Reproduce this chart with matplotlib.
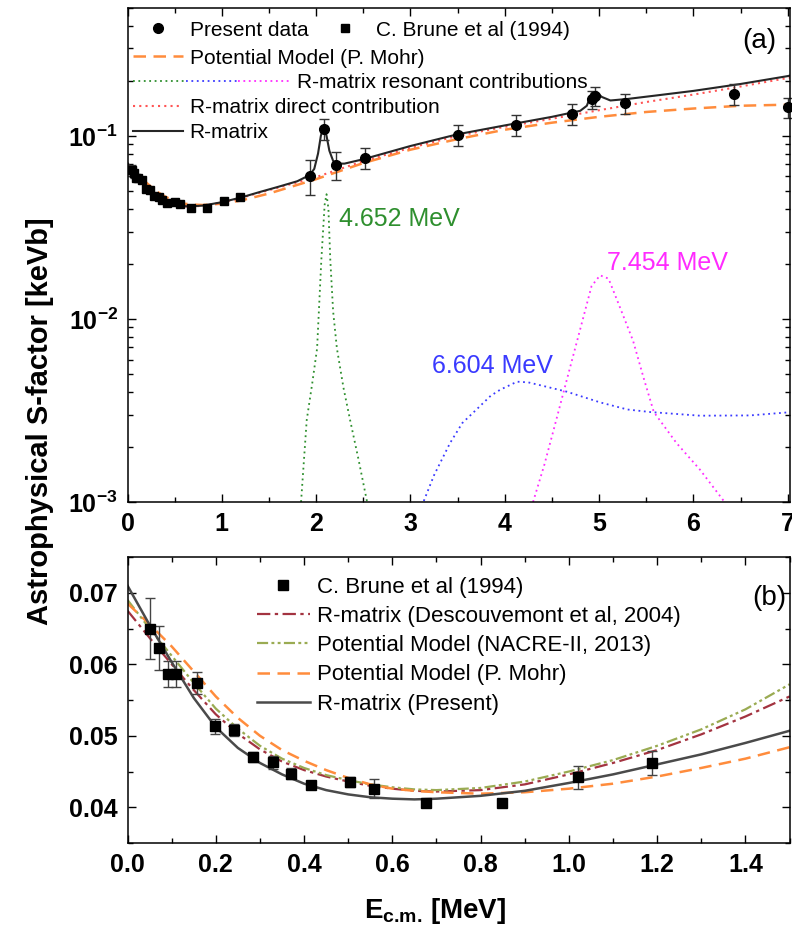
import numpy as np
import matplotlib as mpl
mpl.use('Agg')
import matplotlib.pyplot as plt
from matplotlib.lines import Line2D
from matplotlib.legend_handler import HandlerTuple
from matplotlib.ticker import MultipleLocator, FuncFormatter, LogLocator, NullFormatter

###########################################################################
# DATA

# C. Brune et al (1994)
brune_x = [0.051, 0.072, 0.091, 0.109, 0.157, 0.198, 0.242, 0.284, 0.329,
           0.370, 0.415, 0.505, 0.558, 0.677, 0.848, 1.020, 1.188]
brune_y = [0.0650, 0.0623, 0.0586, 0.0586, 0.0574, 0.0513, 0.0508, 0.0470,
           0.0463, 0.0447, 0.0431, 0.0436, 0.0426, 0.0406, 0.0406, 0.0442,
           0.0462]
brune_err = [0.0043, 0.0031, 0.0018, 0.0018, 0.0015, 0.0011, 0.0009, 0.0007,
             0.0009, 0.0008, 0.0004, 0.0007, 0.0013, 0.0004, 0.0003, 0.0016,
             0.0017]

# present data
pres_x = [1.93, 2.08, 2.21, 2.52, 3.50, 4.12, 4.71, 4.92, 4.96, 5.27, 6.43,
          7.00]
pres_y = [0.0607, 0.109, 0.0697, 0.0761, 0.101, 0.115, 0.132, 0.158, 0.165,
          0.151, 0.170, 0.1435]
pres_err = [0.013, 0.014, 0.012, 0.010, 0.013, 0.015, 0.017, 0.018, 0.019,
            0.019, 0.022, 0.018]

# (a) R-matrix total
rm_x = [0, 0.05, 0.1, 0.15, 0.2, 0.25, 0.3, 0.4, 0.5, 0.65, 0.8, 1.0, 1.2,
        1.4, 1.6, 1.8, 1.93, 1.98, 2.02, 2.05, 2.08, 2.11, 2.14, 2.18, 2.22,
        2.3, 2.5, 3.0, 3.5, 4.0, 4.5, 4.8, 4.87, 4.92, 4.975, 5.03, 5.12,
        5.3, 5.6, 6.0, 6.5, 7.0, 7.05]
rm_y = [0.0710, 0.0655, 0.0603, 0.0553, 0.0512, 0.0483, 0.0462, 0.0433,
        0.0418, 0.0411, 0.0416, 0.0434, 0.0460, 0.0493, 0.0527, 0.0565,
        0.0610, 0.066, 0.080, 0.100, 0.113, 0.100, 0.083, 0.073, 0.0705,
        0.0705, 0.0745, 0.088, 0.102, 0.114, 0.127, 0.137, 0.146, 0.171,
        0.172, 0.163, 0.156, 0.159, 0.166, 0.176, 0.192, 0.212, 0.215]

# (a) R-matrix direct contribution
dc_x = [0, 0.1, 0.2, 0.3, 0.4, 0.5, 0.65, 0.8, 1.0, 1.2, 1.5, 2.0, 2.5, 3.0,
        3.5, 4.0, 4.5, 5.0, 5.5, 6.0, 6.5, 7.0, 7.05]
dc_y = [0.0705, 0.0600, 0.0510, 0.0460, 0.0432, 0.0417, 0.0410, 0.0415,
        0.0432, 0.0458, 0.0505, 0.0595, 0.0728, 0.086, 0.100, 0.112, 0.124,
        0.138, 0.153, 0.168, 0.186, 0.207, 0.209]

# (a) Potential model (P. Mohr)
pm_x = [0, 0.1, 0.2, 0.3, 0.4, 0.5, 0.6, 0.7, 0.8, 1.0, 1.2, 1.5, 2.0, 2.5,
        3.0, 3.5, 4.0, 4.5, 5.0, 5.5, 6.0, 6.5, 7.0, 7.05]
pm_y = [0.0685, 0.0625, 0.0555, 0.0500, 0.0465, 0.0441, 0.0426, 0.0421,
        0.0419, 0.0426, 0.0443, 0.0484, 0.058, 0.071, 0.084, 0.096, 0.108,
        0.118, 0.127, 0.135, 0.141, 0.146, 0.148, 0.148]

# (a) resonant contributions
res1_x = [1.84, 1.90, 1.96, 2.01, 2.055, 2.09, 2.11, 2.13, 2.15, 2.18, 2.22,
          2.29, 2.36, 2.45, 2.54, 2.60]
res1_y = [0.0010, 0.0028, 0.0045, 0.0069, 0.021, 0.042, 0.048, 0.040, 0.021,
          0.011, 0.0069, 0.0042, 0.0028, 0.0017, 0.0010, 0.0008]
res2_x = [3.12, 3.25, 3.42, 3.55, 3.70, 3.85, 3.95, 4.13, 4.25, 4.41, 4.66,
          5.01, 5.30, 5.54, 6.07, 6.60, 7.05]
res2_y = [0.00095, 0.0014, 0.0021, 0.0027, 0.0032, 0.0038, 0.0041, 0.00454,
          0.0045, 0.0043, 0.0040, 0.0035, 0.0032, 0.0031, 0.00296, 0.00297,
          0.0031]
res3_x = [4.30, 4.42, 4.52, 4.66, 4.80, 4.92, 5.01, 5.10, 5.22, 5.36, 5.47,
          5.58, 5.82, 6.07, 6.33]
res3_y = [0.0010, 0.0016, 0.0025, 0.0047, 0.0088, 0.0151, 0.0173, 0.0166,
          0.0116, 0.0076, 0.0048, 0.0031, 0.0021, 0.0015, 0.0010]
res_labels = ['4.652 MeV', '6.604 MeV', '7.454 MeV']
res_label_pos = [(2.24, 0.0351), (3.23, 0.00556), (5.08, 0.0203)]

# (b) low energy curves
low_x = [0.0, 0.05, 0.1, 0.15, 0.2, 0.25, 0.3, 0.35, 0.4, 0.45, 0.5, 0.55,
         0.6, 0.65, 0.7, 0.8, 0.9, 1.0, 1.1, 1.2, 1.3, 1.4, 1.5]
low_rm = [0.0710, 0.0655, 0.0603, 0.0553, 0.0512, 0.0483, 0.0462, 0.0446,
          0.0433, 0.0424, 0.0418, 0.0414, 0.0412, 0.0411, 0.0412, 0.0416,
          0.0423, 0.0434, 0.0446, 0.0460, 0.0474, 0.0490, 0.0507]
low_desc = [0.0675, 0.0637, 0.0600, 0.0564, 0.0530, 0.0503, 0.0481, 0.0464,
            0.0452, 0.0443, 0.0436, 0.0430, 0.0426, 0.0423, 0.0422, 0.0424,
            0.0432, 0.0446, 0.0462, 0.0480, 0.0502, 0.0527, 0.0555]
low_nacre = [0.0690, 0.0650, 0.0612, 0.0574, 0.0538, 0.0510, 0.0486,
             0.0468, 0.0455, 0.0445, 0.0438, 0.0432, 0.0428, 0.0425, 0.0424,
             0.0427, 0.0436, 0.0450, 0.0466, 0.0486, 0.0509, 0.0537, 0.0572]
low_mohr = [0.0685, 0.0656, 0.0625, 0.0590, 0.0555, 0.0525, 0.0500, 0.0480,
            0.0465, 0.0452, 0.0441, 0.0432, 0.0426, 0.0423, 0.0421, 0.0419,
            0.0421, 0.0426, 0.0433, 0.0443, 0.0455, 0.0468, 0.0484]

###########################################################################
# STYLE
mpl.rcParams['font.family'] = ['Liberation Sans', 'DejaVu Sans']
mpl.rcParams['mathtext.fontset'] = 'custom'
mpl.rcParams['mathtext.rm'] = 'Liberation Sans:bold'
mpl.rcParams['mathtext.bf'] = 'Liberation Sans:bold'
mpl.rcParams['mathtext.it'] = 'Liberation Sans:italic'
mpl.rcParams['axes.linewidth'] = 1.1

c_black = '#262626'
c_green = '#2e8f2e'
c_blue = '#3a3aff'
c_magenta = '#ff2bff'
c_red = '#ff5555'
c_orange = '#ff8c3c'
c_desc = '#a33340'
c_nacre = '#9aab52'
dot = (0, (1, 2))


def style_axis(ax):
    ax.tick_params(which='both', direction='in', top=True, right=True,
                   width=1.0, labelsize=18)
    ax.tick_params(which='major', length=6, pad=7)
    ax.tick_params(which='minor', length=3.5)
    for lab in ax.get_xticklabels() + ax.get_yticklabels():
        lab.set_fontweight('bold')


fig = plt.figure(figsize=(7.92, 9.27), dpi=100)
ax = fig.add_axes([0.161, 0.4585, 0.836, 0.533])
ax2 = fig.add_axes([0.161, 0.0906, 0.836, 0.3085])

###########################################################################
# (a)
ax.set_yscale('log')
res_colors = [c_green, c_blue, c_magenta]
for rx, ry, col in zip([res1_x, res2_x, res3_x], [res1_y, res2_y, res3_y],
                       res_colors):
    ax.plot(rx, ry, color=col, linestyle=dot, lw=1.3)
for (tx, ty), txt, col in zip(res_label_pos, res_labels, res_colors):
    ax.text(tx, ty, txt, color=col, fontsize=18, va='center', ha='left')

ax.plot(pm_x, pm_y, color=c_orange, linestyle=(0, (5, 3)), lw=1.8)
ax.plot(dc_x, dc_y, color=c_red, linestyle=dot, lw=1.5)
ax.plot(rm_x, rm_y, color=c_black, lw=1.5)
ax.errorbar(brune_x, brune_y, yerr=brune_err, fmt='s', ms=6, color='k',
            ecolor='#333333', elinewidth=1, capsize=3)
ax.errorbar(pres_x, pres_y, yerr=pres_err, fmt='o', ms=7, color='k',
            ecolor='#333333', elinewidth=1, capsize=3.5, clip_on=False)

ax.set_xlim(0, 7.02)
ax.set_ylim(1e-3, 0.5)
ax.xaxis.set_major_locator(MultipleLocator(1))
ax.xaxis.set_minor_locator(MultipleLocator(0.5))
ax.yaxis.set_major_locator(LogLocator(base=10, numticks=10))
ax.yaxis.set_minor_locator(LogLocator(base=10, subs=np.arange(2, 10),
                                      numticks=20))
ax.yaxis.set_minor_formatter(NullFormatter())
ax.yaxis.set_major_formatter(FuncFormatter(
    lambda v, p: r'$\mathbf{10^{%d}}$' % round(np.log10(v))))
style_axis(ax)
ax.text(0.954, 0.933, '(a)', transform=ax.transAxes, fontsize=20,
        ha='center', va='center')

# legend of (a), built as separate rows
leg_kw = dict(frameon=False, fontsize=15, loc='center left', borderpad=0,
              borderaxespad=0, handletextpad=0.3, handlelength=2.4)
h_pres = Line2D([], [], marker='o', ms=7, color='k', ls='none')
h_brune = Line2D([], [], marker='s', ms=6, color='k', ls='none')
leg1 = ax.legend([h_pres, h_brune], ['Present data', 'C. Brune et al (1994)'],
                 ncol=2, columnspacing=0.55, bbox_to_anchor=(0.009, 0.955),
                 **leg_kw)
ax.add_artist(leg1)
h_pm = Line2D([], [], color=c_orange, ls=(0, (5, 3)), lw=1.8)
leg2 = ax.legend([h_pm], ['Potential Model (P. Mohr)'],
                 bbox_to_anchor=(0.009, 0.898), **leg_kw)
ax.add_artist(leg2)
h_res = tuple(Line2D([], [], color=c, ls=dot, lw=1.3) for c in res_colors)
kw3 = dict(leg_kw)
kw3['handlelength'] = 7.55
leg3 = ax.legend([h_res], ['R-matrix resonant contributions'],
                 handler_map={tuple: HandlerTuple(ndivide=None, pad=0)},
                 bbox_to_anchor=(0.009, 0.848), **kw3)
ax.add_artist(leg3)
h_dc = Line2D([], [], color=c_red, ls=dot, lw=1.5)
h_rm = Line2D([], [], color=c_black, lw=1.5)
ax.legend([h_dc, h_rm], ['R-matrix direct contribution', 'R-matrix'],
          labelspacing=0.3, bbox_to_anchor=(0.009, 0.773), **leg_kw)

###########################################################################
# (b)
ax2.plot(low_x, low_desc, color=c_desc, ls=(0, (6, 2, 1.5, 2)), lw=1.6)
ax2.plot(low_x, low_nacre, color=c_nacre,
         ls=(0, (5, 1.5, 1.3, 1.5, 1.3, 1.5)), lw=1.6)
ax2.plot(low_x, low_mohr, color=c_orange, ls=(0, (5, 3)), lw=1.8)
ax2.plot(low_x, low_rm, color='#4a4a4a', lw=1.8)
ax2.errorbar(brune_x, brune_y, yerr=brune_err, fmt='s', ms=6.5, color='k',
             ecolor='#444444', elinewidth=1, capsize=3.5)

ax2.set_xlim(0, 1.5)
ax2.set_ylim(0.035, 0.075)
ax2.xaxis.set_major_locator(MultipleLocator(0.2))
ax2.xaxis.set_minor_locator(MultipleLocator(0.1))
ax2.yaxis.set_major_locator(MultipleLocator(0.01))
ax2.yaxis.set_minor_locator(MultipleLocator(0.005))
ax2.xaxis.set_major_formatter(FuncFormatter(lambda v, p: '%.1f' % v))
ax2.yaxis.set_major_formatter(FuncFormatter(lambda v, p: '%.2f' % v))
style_axis(ax2)
ax2.text(0.97, 0.857, '(b)', transform=ax2.transAxes, fontsize=20,
         ha='center', va='center')

b_handles = [
    Line2D([], [], marker='s', ms=6.5, color='k', ls='none'),
    Line2D([], [], color=c_desc, ls=(0, (6, 2, 1.5, 2)), lw=1.6),
    Line2D([], [], color=c_nacre, ls=(0, (5, 1.5, 1.3, 1.5, 1.3, 1.5)),
           lw=1.6),
    Line2D([], [], color=c_orange, ls=(0, (5, 3)), lw=1.8),
    Line2D([], [], color='#4a4a4a', lw=1.8),
]
b_labels = ['C. Brune et al (1994)', 'R-matrix (Descouvemont et al, 2004)',
            'Potential Model (NACRE-II, 2013)', 'Potential Model (P. Mohr)',
            'R-matrix (Present)']
ax2.legend(b_handles, b_labels, frameon=False, fontsize=16,
           loc='center left', borderpad=0, borderaxespad=0,
           handletextpad=0.35, handlelength=2.35, labelspacing=0.37,
           bbox_to_anchor=(0.196, 0.69))

###########################################################################
fig.text(40 / 792, 1 - 421 / 927, 'Astrophysical S-factor [keVb]',
         rotation=90, fontsize=21, fontweight='bold', ha='center',
         va='center')
fig.text(435 / 792, 1 - 918 / 927, r'E$_{\text{c.m.}}$ [MeV]',
         fontsize=20, fontweight='bold', ha='center', va='baseline')

fig.savefig('out.png', dpi=100)
